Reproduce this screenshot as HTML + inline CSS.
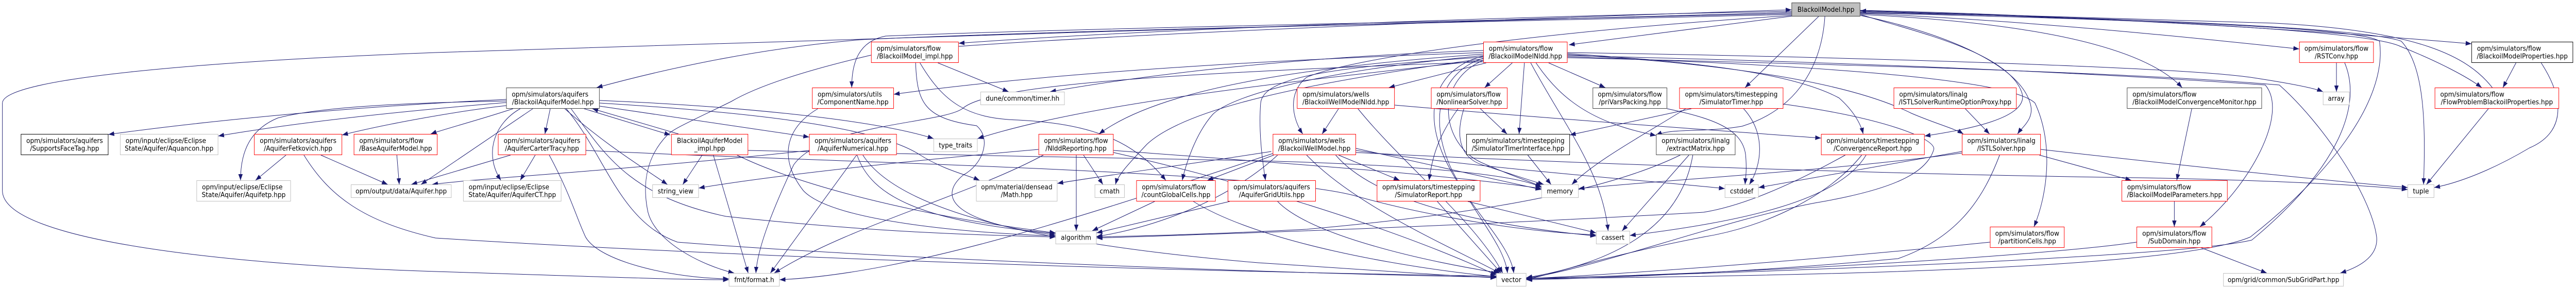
<!DOCTYPE html>
<html><head><meta charset="utf-8">
<style>
html,body{margin:0;padding:0;background:#fff;width:100%;height:100%;overflow:hidden;}
#d{position:fixed;left:0;top:0;width:100%;height:100%;display:block;background:#fff;}
.e path{fill:none;stroke:#191970;stroke-width:1;marker-end:url(#a);}
.nd rect{fill:#fff;stroke:#bfbfbf;stroke-width:1;}
.nd rect.r{stroke:#ff0000;}
.nd rect.k{stroke:#000;}
.nd rect.g{stroke:#404040;}
.nd rect.t{fill:#bfbfbf;stroke:#404040;}
.nd text{font-family:"DejaVu Sans","Liberation Sans",sans-serif;font-size:13px;fill:#000;}
.m{text-anchor:middle;}
.s{text-anchor:start;}
</style></head><body>
<svg id="d" viewBox="0 0 5323 559" preserveAspectRatio="none" xmlns="http://www.w3.org/2000/svg">
<defs><marker id="a" viewBox="0 0 12 9" refX="12" refY="4.5" markerWidth="12" markerHeight="9" markerUnits="userSpaceOnUse" orient="auto"><path d="M0,0L12,4.5L0,9z" fill="#191970"/></marker></defs>
<rect x="0" y="0" width="5323" height="559" fill="#fff"/>
<g class="e">
<path d="M3702,24 C3100,40 1500,80 900,102 C450,118 5,150 5,200 L5,370 C5,470 500,515 900,527 C1200,536 1400,543 1506,543"/>
<path d="M3702,26 C3200,38 2200,55 1830,70 C1775,80 1760,120 1760,170"/>
<path d="M3702,28 C3200,40 2200,58 1780,77 C1550,95 1350,140 1233,170"/>
<path d="M3702,22 C3200,30 2400,55 1981,84"/>
<path d="M1981,90 C2400,62 3200,34 3702,19"/>
<path d="M3705,31 L3242,87"/>
<path d="M3844,26 C4200,40 4550,75 4751,95"/>
<path d="M3844,20 C4300,30 4800,60 5107,85"/>
<path d="M3844,22 C4300,34 4880,55 4960,90 C5040,120 5100,150 5128,170"/>
<path d="M5150,170 C5100,110 5000,60 4700,45 C4400,35 4100,26 3844,21"/>
<path d="M3844,24 C4500,36 4900,58 4962,80 C5012,130 5012,250 5008,358"/>
<path d="M3844,28 C4150,42 4420,80 4509,170"/>
<path d="M3844,25 C4500,40 4880,55 4917,80 C4935,200 4800,350 4650,460 C4500,520 3800,535 3154,541"/>
<path d="M3759,31 L3606,170"/>
<path d="M3771,31 C3765,120 3720,210 3600,245 C3520,258 3460,248 3422,262"/>
<path d="M3844,28 C3950,60 4150,100 4178,180 C4195,230 4060,252 3977,264"/>
<path d="M3844,30 C4000,60 4170,120 4195,200 C4205,230 4180,245 4169,260"/>
<path d="M3239,110 C3700,125 4150,150 4205,200 C4245,280 4230,380 4203,440"/>
<path d="M3702,30 C3200,60 2800,110 2700,150 C2660,180 2670,230 2692,260"/>
<path d="M3071,122 L2870,170"/>
<path d="M3125,122 L3068,170"/>
<path d="M3150,122 L3139,260"/>
<path d="M3163,122 C3230,240 3310,330 3323,448"/>
<path d="M3174,122 C3230,200 3300,240 3422,263"/>
<path d="M3200,122 L3317,170"/>
<path d="M3065,109 C2990,125 2930,190 2984,305 C3030,400 3120,470 3128,530"/>
<path d="M3065,113 C2975,140 2950,230 3000,330 C3050,420 3110,480 3115,530"/>
<path d="M3065,117 C2960,160 2980,280 3060,315 C3120,340 3160,352 3185,362"/>
<path d="M3239,104 C3500,120 3700,140 3800,190 C3830,215 3845,240 3850,260"/>
<path d="M3239,106 C3500,120 3800,150 3950,220 C4000,240 4040,250 4057,260"/>
<path d="M3239,108 C3800,120 4300,140 4681,165 C4730,220 4650,360 4546,440"/>
<path d="M3239,112 C3800,125 4400,140 4710,165 C4800,240 4900,380 4911,460 C4915,500 4870,520 4836,530"/>
<path d="M3239,102 C3800,110 4500,130 4650,150 C4720,160 4780,170 4800,178"/>
<path d="M3065,98 C2700,110 2400,140 2170,178"/>
<path d="M3065,102 C2500,120 2100,150 1847,183"/>
<path d="M3065,105 C2700,130 2400,170 2271,260"/>
<path d="M3065,108 C2700,140 2540,190 2506,222 C2470,260 2450,320 2443,350"/>
<path d="M3065,111 C2750,130 2610,150 2605,200 C2600,260 2610,320 2615,350"/>
<path d="M3065,114 C2700,160 2450,210 2370,280 C2330,320 2310,340 2305,358"/>
<path d="M3065,117 C2650,160 2250,200 2020,269"/>
<path d="M3065,120 C2500,140 2050,160 1990,210 C1950,240 1700,240 1640,320 C1600,400 1565,480 1562,530"/>
<path d="M1938,122 L2084,178"/>
<path d="M1892,122 C1895,200 1910,230 2018,244 C2050,270 2030,320 1990,340 C1940,380 1960,430 2181,456"/>
<path d="M1901,122 C1950,200 2000,230 2104,233 C2250,240 2340,270 2409,350"/>
<path d="M1800,107 C1650,140 1560,170 1511,197 C1440,230 1390,250 1379,262 C1340,300 1325,350 1339,412 C1355,470 1450,515 1517,530"/>
<path d="M1690,211 C1620,250 1610,310 1660,370 C1720,430 2000,452 2181,458"/>
<path d="M1771,301 C1800,380 1900,430 2181,453"/>
<path d="M1783,301 C1850,400 2100,470 2600,510 C2900,528 3000,536 3092,539"/>
<path d="M1770,301 L1592,530"/>
<path d="M1672,292 C1300,330 1000,345 893,358"/>
<path d="M1046,193 C700,208 400,238 224,261"/>
<path d="M1046,199 C800,218 600,240 451,264"/>
<path d="M1046,196 C800,200 650,210 574,229 C520,250 497,290 497,350"/>
<path d="M1046,205 C950,215 800,240 707,262"/>
<path d="M1060,211 C1000,230 920,250 890,260"/>
<path d="M1137,211 L1126,260"/>
<path d="M1075,211 C1020,240 1000,300 1035,350"/>
<path d="M1101,211 L870,358"/>
<path d="M1167,211 C1250,280 1320,320 1379,358"/>
<path d="M1207,211 L1385,262"/>
<path d="M1402,260 L1224,211"/>
<path d="M1239,206 L1672,266"/>
<path d="M1239,195 C1500,205 1800,230 1929,269"/>
<path d="M1239,200 C1500,215 1800,240 1900,300 C1950,330 2000,340 2024,350"/>
<path d="M1180,211 C1250,300 1300,380 1500,420 C1800,450 2000,456 2181,460"/>
<path d="M1170,211 C1250,300 1280,430 1400,470 C1800,500 2600,530 3092,538"/>
<path d="M591,301 L528,350"/>
<path d="M663,301 L801,358"/>
<path d="M628,301 C680,380 750,430 900,462 C1200,480 2000,520 3092,536"/>
<path d="M820,301 L825,358"/>
<path d="M1106,301 L1075,350"/>
<path d="M1055,301 L850,358"/>
<path d="M1135,301 C1180,380 1190,420 1210,460 C1240,510 1400,541 1506,541"/>
<path d="M1211,292 C1700,315 2600,330 2800,380 C2950,420 3150,450 3298,456"/>
<path d="M1451,301 L1411,358"/>
<path d="M1474,301 L1546,530"/>
<path d="M1523,301 C1650,360 1900,420 2181,452"/>
<path d="M1546,292 C1800,300 2300,305 2600,312 C3000,322 3150,345 3185,364"/>
<path d="M2224,301 L2224,448"/>
<path d="M2239,301 L2279,358"/>
<path d="M2146,290 C1900,310 1600,340 1444,365"/>
<path d="M2156,301 C2000,380 1750,440 1600,530"/>
<path d="M2301,292 C2700,320 3000,340 3185,366"/>
<path d="M2301,296 C2600,360 2900,450 3092,534"/>
<path d="M2766,301 L2892,350"/>
<path d="M2802,288 C2950,320 3100,350 3185,368"/>
<path d="M2802,292 C3100,330 3400,350 3564,366"/>
<path d="M2802,296 C3300,320 4000,340 4420,345 C4700,350 4900,360 4975,368"/>
<path d="M2632,301 L2495,350"/>
<path d="M2627,294 C2450,320 2250,345 2185,356"/>
<path d="M2700,301 C2800,400 3000,480 3099,530"/>
<path d="M2640,301 C2550,380 2400,440 2266,459"/>
<path d="M2760,301 C2850,400 3100,440 3298,458"/>
<path d="M2630,298 C2300,400 1900,530 1611,543"/>
<path d="M2766,211 L2732,260"/>
<path d="M2882,204 C3200,230 3500,250 3763,268"/>
<path d="M2806,211 C2900,320 3050,430 3105,530"/>
<path d="M3013,211 C2975,260 2960,300 2953,350"/>
<path d="M3059,211 L3114,260"/>
<path d="M3025,211 C3005,270 3020,310 3070,322 C3130,340 3160,350 3190,358"/>
<path d="M3157,301 L3205,358"/>
<path d="M3495,211 L3244,262"/>
<path d="M3483,211 C3400,260 3300,310 3248,358"/>
<path d="M3603,211 C3650,260 3640,320 3615,358"/>
<path d="M3685,202 C3900,230 4000,270 3996,290 C3980,340 3900,370 3750,394 C3550,430 3300,520 3154,540"/>
<path d="M3445,211 C3540,230 3600,250 3607,300 C3610,330 3607,345 3606,358"/>
<path d="M3490,301 L3352,448"/>
<path d="M3498,301 C3480,400 3400,500 3154,539"/>
<path d="M3472,301 C3300,380 3000,420 2700,445 C2500,455 2350,458 2266,460"/>
<path d="M3813,301 C3700,360 3600,400 3520,412 C3000,440 2500,455 2266,462"/>
<path d="M3847,301 C3780,380 3650,440 3520,460 C3300,500 3200,535 3154,542"/>
<path d="M3856,301 C3800,390 3600,430 3368,457"/>
<path d="M4054,294 C3900,320 3750,345 3634,364"/>
<path d="M4054,297 C3800,330 3500,345 3262,366"/>
<path d="M4214,301 L4404,350"/>
<path d="M4217,290 C4500,320 4800,350 4975,364"/>
<path d="M4132,301 C4100,380 4050,460 3922,502 C3600,530 3300,540 3154,543"/>
<path d="M4061,211 L4111,260"/>
<path d="M4529,211 L4498,350"/>
<path d="M4493,391 L4493,440"/>
<path d="M4546,480 L4684,530"/>
<path d="M4415,470 C4200,500 3500,535 3154,540"/>
<path d="M4112,470 C3800,500 3400,530 3154,541"/>
<path d="M4828,122 L4828,178"/>
<path d="M4845,122 C4880,200 4840,320 4653,466 C4500,500 3600,530 3154,541"/>
<path d="M5199,122 L5172,170"/>
<path d="M5251,122 C5305,200 5295,260 5227,287 C5150,330 5080,355 5030,364"/>
<path d="M5142,211 L5014,358"/>
<path d="M2541,391 L2266,452"/>
<path d="M2640,391 C2700,450 2900,500 3098,530"/>
<path d="M2386,391 L2257,448"/>
<path d="M2466,391 C2600,470 2900,520 3092,537"/>
<path d="M2970,391 L3102,530"/>
<path d="M3033,391 L3298,452"/>
</g>
<g class="nd">
<rect class="t" x="3702.5" y="5.5" width="141" height="26"/><text class="m" x="3773" y="23">BlackoilModel.hpp</text>

<rect class="r" x="1800.5" y="81.5" width="180" height="40"/><text class="s" x="1811.5" y="98.5">opm/simulators/flow</text><text class="m" x="1890.5" y="113.5">/BlackoilModel_impl.hpp</text>
<rect class="r" x="3065.5" y="81.5" width="173" height="40"/><text class="s" x="3076.5" y="98.5">opm/simulators/flow</text><text class="m" x="3152" y="113.5">/BlackoilModelNldd.hpp</text>
<rect class="r" x="4751.5" y="81.5" width="153" height="40"/><text class="m" x="4828" y="98.5">opm/simulators/flow</text><text class="m" x="4828" y="113.5">/RSTConv.hpp</text>
<rect class="k" x="5107.5" y="81.5" width="209" height="40"/><text class="s" x="5118.5" y="98.5">opm/simulators/flow</text><text class="m" x="5212" y="113.5">/BlackoilModelProperties.hpp</text>

<rect class="g" x="1046.5" y="170.5" width="192" height="40"/><text class="s" x="1057.5" y="187.5">opm/simulators/aquifers</text><text class="m" x="1142.5" y="202.5">/BlackoilAquiferModel.hpp</text>
<rect class="r" x="1678.5" y="170.5" width="168" height="40"/><text class="s" x="1689.5" y="187.5">opm/simulators/utils</text><text class="m" x="1762.5" y="202.5">/ComponentName.hpp</text>
<rect x="2026.5" y="178.5" width="173" height="25"/><text class="m" x="2113" y="195.5">dune/common/timer.hh</text>
<rect class="r" x="2680.5" y="170.5" width="201" height="40"/><text class="s" x="2691.5" y="187.5">opm/simulators/wells</text><text class="m" x="2781" y="202.5">/BlackoilWellModelNldd.hpp</text>
<rect class="r" x="2957.5" y="170.5" width="157" height="40"/><text class="s" x="2968.5" y="187.5">opm/simulators/flow</text><text class="m" x="3036" y="202.5">/NonlinearSolver.hpp</text>
<rect class="g" x="3291.5" y="170.5" width="153" height="40"/><text class="m" x="3368" y="187.5">opm/simulators/flow</text><text class="m" x="3368" y="202.5">/priVarsPacking.hpp</text>
<rect class="r" x="3470.5" y="170.5" width="214" height="40"/><text class="m" x="3577.5" y="187.5">opm/simulators/timestepping</text><text class="m" x="3577.5" y="202.5">/SimulatorTimer.hpp</text>
<rect class="r" x="3913.5" y="170.5" width="253" height="40"/><text class="s" x="3924.5" y="187.5">opm/simulators/linalg</text><text class="m" x="4040" y="202.5">/ISTLSolverRuntimeOptionProxy.hpp</text>
<rect class="g" x="4395.5" y="170.5" width="278" height="40"/><text class="s" x="4406.5" y="187.5">opm/simulators/flow</text><text class="m" x="4534.5" y="202.5">/BlackoilModelConvergenceMonitor.hpp</text>
<rect x="4800.5" y="178.5" width="54" height="25"/><text class="m" x="4827.5" y="195.5">array</text>
<rect class="r" x="5031.5" y="170.5" width="256" height="40"/><text class="s" x="5042.5" y="187.5">opm/simulators/flow</text><text class="m" x="5159.5" y="202.5">/FlowProblemBlackoilProperties.hpp</text>

<rect class="k" x="43.5" y="260.5" width="180" height="40"/><text class="m" x="133.5" y="277.5">opm/simulators/aquifers</text><text class="m" x="133.5" y="292.5">/SupportsFaceTag.hpp</text>
<rect x="248.5" y="260.5" width="202" height="40"/><text class="s" x="259.5" y="277.5">opm/input/eclipse/Eclipse</text><text class="m" x="349.5" y="292.5">State/Aquifer/Aquancon.hpp</text>
<rect class="r" x="525.5" y="260.5" width="181" height="40"/><text class="m" x="616" y="277.5">opm/simulators/aquifers</text><text class="m" x="616" y="292.5">/AquiferFetkovich.hpp</text>
<rect class="r" x="731.5" y="260.5" width="172" height="40"/><text class="s" x="742.5" y="277.5">opm/simulators/flow</text><text class="m" x="817.5" y="292.5">/BaseAquiferModel.hpp</text>
<rect class="r" x="1029.5" y="260.5" width="181" height="40"/><text class="m" x="1120" y="277.5">opm/simulators/aquifers</text><text class="m" x="1120" y="292.5">/AquiferCarterTracy.hpp</text>
<rect class="r" x="1387.5" y="260.5" width="158" height="40"/><text class="m" x="1466.5" y="277.5">BlackoilAquiferModel</text><text class="m" x="1466.5" y="292.5">_impl.hpp</text>
<rect class="r" x="1672.5" y="260.5" width="180" height="40"/><text class="m" x="1762.5" y="277.5">opm/simulators/aquifers</text><text class="m" x="1762.5" y="292.5">/AquiferNumerical.hpp</text>
<rect x="1929.5" y="269.5" width="90" height="25"/><text class="m" x="1974.5" y="286.5">type_traits</text>
<rect class="r" x="2146.5" y="260.5" width="154" height="40"/><text class="m" x="2223.5" y="277.5">opm/simulators/flow</text><text class="m" x="2223.5" y="292.5">/NlddReporting.hpp</text>
<rect class="r" x="2630.5" y="260.5" width="171" height="40"/><text class="s" x="2641.5" y="277.5">opm/simulators/wells</text><text class="m" x="2716" y="292.5">/BlackoilWellModel.hpp</text>
<rect class="k" x="3030.5" y="260.5" width="213" height="40"/><text class="s" x="3041.5" y="277.5">opm/simulators/timestepping</text><text class="m" x="3137" y="292.5">/SimulatorTimerInterface.hpp</text>
<rect class="g" x="3422.5" y="260.5" width="163" height="40"/><text class="m" x="3504" y="277.5">opm/simulators/linalg</text><text class="m" x="3504" y="292.5">/extractMatrix.hpp</text>
<rect class="r" x="3763.5" y="260.5" width="213" height="40"/><text class="m" x="3870" y="277.5">opm/simulators/timestepping</text><text class="m" x="3870" y="292.5">/ConvergenceReport.hpp</text>
<rect class="r" x="4054.5" y="260.5" width="162" height="40"/><text class="m" x="4135.5" y="277.5">opm/simulators/linalg</text><text class="m" x="4135.5" y="292.5">/ISTLSolver.hpp</text>

<rect x="406.5" y="350.5" width="194" height="40"/><text class="s" x="417.5" y="367.5">opm/input/eclipse/Eclipse</text><text class="m" x="503.5" y="382.5">State/Aquifer/Aquifetp.hpp</text>
<rect x="725.5" y="358.5" width="207" height="25"/><text class="m" x="829" y="375.5">opm/output/data/Aquifer.hpp</text>
<rect x="957.5" y="350.5" width="202" height="40"/><text class="s" x="968.5" y="367.5">opm/input/eclipse/Eclipse</text><text class="m" x="1058.5" y="382.5">State/Aquifer/AquiferCT.hpp</text>
<rect x="1348.5" y="358.5" width="95" height="25"/><text class="m" x="1396" y="375.5">string_view</text>
<rect x="2017.5" y="350.5" width="167" height="40"/><text class="m" x="2101" y="367.5">opm/material/densead</text><text class="m" x="2101" y="382.5">/Math.hpp</text>
<rect x="2262.5" y="358.5" width="61" height="25"/><text class="m" x="2293" y="375.5">cmath</text>
<rect class="r" x="2348.5" y="350.5" width="163" height="40"/><text class="s" x="2359.5" y="367.5">opm/simulators/flow</text><text class="m" x="2430" y="382.5">/countGlobalCells.hpp</text>
<rect class="r" x="2537.5" y="350.5" width="181" height="40"/><text class="m" x="2628" y="367.5">opm/simulators/aquifers</text><text class="m" x="2628" y="382.5">/AquiferGridUtils.hpp</text>
<rect class="r" x="2845.5" y="350.5" width="213" height="40"/><text class="m" x="2952" y="367.5">opm/simulators/timestepping</text><text class="m" x="2952" y="382.5">/SimulatorReport.hpp</text>
<rect x="3185.5" y="358.5" width="76" height="25"/><text class="m" x="3223.5" y="375.5">memory</text>
<rect x="3564.5" y="358.5" width="69" height="25"/><text class="m" x="3599" y="375.5">cstddef</text>
<rect class="r" x="4384.5" y="350.5" width="218" height="40"/><text class="s" x="4395.5" y="367.5">opm/simulators/flow</text><text class="m" x="4493.5" y="382.5">/BlackoilModelParameters.hpp</text>
<rect x="4975.5" y="358.5" width="54" height="25"/><text class="m" x="5002.5" y="375.5">tuple</text>

<rect x="2181.5" y="448.5" width="84" height="25"/><text class="m" x="2223.5" y="465.5">algorithm</text>
<rect x="3298.5" y="448.5" width="69" height="25"/><text class="m" x="3333" y="465.5">cassert</text>
<rect class="r" x="4112.5" y="440.5" width="153" height="40"/><text class="m" x="4189" y="457.5">opm/simulators/flow</text><text class="m" x="4189" y="472.5">/partitionCells.hpp</text>
<rect class="r" x="4415.5" y="440.5" width="155" height="40"/><text class="m" x="4493" y="457.5">opm/simulators/flow</text><text class="m" x="4493" y="472.5">/SubDomain.hpp</text>

<rect x="1506.5" y="530.5" width="104" height="25"/><text class="m" x="1558.5" y="547.5">fmt/format.h</text>
<rect x="3092.5" y="530.5" width="61" height="25"/><text class="m" x="3123" y="547.5">vector</text>
<rect x="4594.5" y="530.5" width="248" height="25"/><text class="m" x="4718.5" y="547.5">opm/grid/common/SubGridPart.hpp</text>
</g>
</svg>
</body></html>
